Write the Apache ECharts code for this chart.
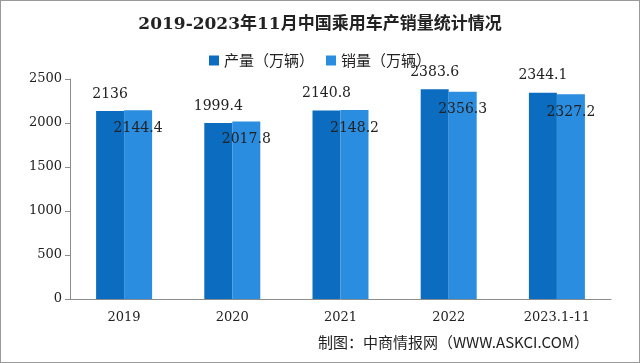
<!DOCTYPE html>
<html><head><meta charset="utf-8">
<script src="https://cdn.jsdelivr.net/npm/echarts@6/dist/echarts.min.js"></script>
<style>html,body{margin:0;padding:0;background:#fff;}#c{width:640px;height:363px;box-sizing:border-box;border:1px solid #9a9a9a;}</style>
</head><body><div id="c"></div>
<script>
const categories = ['2019', '2020', '2021', '2022', '2023.1-11'];
const production = [2136, 1999.4, 2140.8, 2383.6, 2344.1];
const sales = [2144.4, 2017.8, 2148.2, 2356.3, 2327.2];
const seriesNames = ['产量（万辆）', '销量（万辆）'];
const titleText = '2019-2023年11月中国乘用车产销量统计情况';
const sourceText = '制图：中商情报网（WWW.ASKCI.COM）';

const serif = '"DejaVu Serif", "Noto Sans CJK SC", serif';
const chart = echarts.init(document.getElementById('c'));
chart.setOption({
  animation: false,
  backgroundColor: '#fff',
  title: {
    text: titleText, left: 'center', top: 10,
    textStyle: { fontFamily: serif, fontSize: 17, fontWeight: 'bold', color: '#222' }
  },
  legend: {
    top: 47, left: 'center', itemWidth: 10, itemHeight: 10, itemGap: 12,
    icon: 'rect',
    textStyle: { fontFamily: '"Noto Sans CJK SC", sans-serif', fontSize: 15, color: '#222' }
  },
  grid: { left: 69, right: 28, top: 78, bottom: 63 },
  xAxis: {
    type: 'category', data: categories,
    axisLine: { lineStyle: { color: '#8c8c8c' } },
    axisTick: { length: 5, lineStyle: { color: '#8c8c8c' } },
    axisLabel: { fontFamily: serif, fontSize: 13, color: '#222', margin: 12 }
  },
  yAxis: {
    type: 'value', min: 0, max: 2500, interval: 500,
    splitLine: { show: false },
    axisLine: { show: true, lineStyle: { color: '#8c8c8c' } },
    axisTick: { show: true, length: 5, lineStyle: { color: '#8c8c8c' } },
    axisLabel: { fontFamily: serif, fontSize: 13, color: '#222', margin: 8, formatter: v => String(v) }
  },
  series: [
    {
      name: seriesNames[0], type: 'bar', data: production, barWidth: 28, barGap: '0%',
      itemStyle: { color: '#0b6cc0' },
      label: { show: true, position: 'top', distance: 10, fontFamily: serif, fontSize: 14, color: '#222' }
    },
    {
      name: seriesNames[1], type: 'bar', data: sales, barWidth: 28,
      itemStyle: { color: '#2b8de0' },
      label: { show: true, position: 'insideTop', distance: 11, fontFamily: serif, fontSize: 14, color: '#222' }
    }
  ],
  graphic: [{
    type: 'text', right: 50, top: 334,
    style: { text: sourceText, font: '15px "Noto Sans CJK SC", sans-serif', fill: '#222' }
  }]
});
</script></body></html>
